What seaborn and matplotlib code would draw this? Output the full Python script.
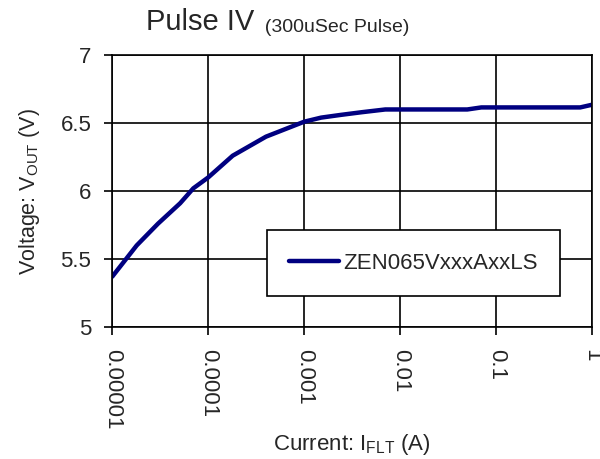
import matplotlib
matplotlib.use("Agg")
import matplotlib.pyplot as plt
import seaborn as sns
import pandas as pd

# values
current = [1e-5, 1.8e-5, 3e-5, 5.1e-5, 7e-5, 1e-4, 1.8e-4, 4e-4, 1e-3,
           1.5e-3, 2.4e-3, 4e-3, 7e-3, 0.05, 0.07, 0.75, 1.0]
voltage = [5.37, 5.60, 5.76, 5.91, 6.02, 6.10, 6.26, 6.40, 6.51,
           6.54, 6.56, 6.58, 6.60, 6.60, 6.615, 6.615, 6.635]
series_name = "ZEN065VxxxAxxLS"
xtick_vals = [1e-5, 1e-4, 1e-3, 1e-2, 1e-1, 1]
xtick_labels = ["0.00001", "0.0001", "0.001", "0.01", "0.1", "1"]
ytick_vals = [5, 5.5, 6, 6.5, 7]
ytick_labels = ["5", "5.5", "6", "6.5", "7"]

df = pd.DataFrame({"current": current, "voltage": voltage})

sns.set_style("white")
plt.rcParams["font.family"] = ["Liberation Sans", "DejaVu Sans"]
plt.rcParams["mathtext.fontset"] = "custom"
plt.rcParams["mathtext.rm"] = "Liberation Sans"
plt.rcParams["mathtext.it"] = "Liberation Sans"

fig = plt.figure(figsize=(6, 4.59), dpi=100)
ax = fig.add_axes([0.187, 0.2876, 0.80, 0.5924])

sns.lineplot(data=df, x="current", y="voltage", ax=ax, color="#000080",
             linewidth=3.2, label=series_name, sort=True)

ax.set_xscale("log")
ax.set_xlim(1e-5, 1)
ax.set_ylim(5, 7)
ax.set_xticks(xtick_vals)
ax.set_xticklabels(xtick_labels, rotation=-90, fontsize=16)
ax.minorticks_off()
ax.set_yticks(ytick_vals)
ax.set_yticklabels(ytick_labels, fontsize=16)
ax.tick_params(axis="both", direction="out", length=6, width=1.2,
               color="black", bottom=True, left=True)
ax.tick_params(axis="x", pad=10)
ax.tick_params(axis="y", pad=9)

ax.grid(True, color="black", linewidth=1.2)
for s in ax.spines.values():
    s.set_color("black")
    s.set_linewidth(1.2)

ax.set_xlabel(r"Current: I$_{\mathrm{FLT}}$ (A)", fontsize=16, labelpad=2)
ax.set_ylabel(r"Voltage: V$_{\mathrm{OUT}}$ (V)", fontsize=15.5, labelpad=13)

leg = ax.legend(loc="center", bbox_to_anchor=(0.628, 0.235), fontsize=16,
                frameon=True, fancybox=False, borderpad=1.0,
                handlelength=2.25, handletextpad=0.2, borderaxespad=0)
leg.get_frame().set_edgecolor("black")
leg.get_frame().set_linewidth(1.2)
leg.get_frame().set_alpha(1)
for line in leg.get_lines():
    line.set_solid_capstyle("round")

t1 = fig.text(146 / 600, 1 - 30 / 459, "Pulse IV", fontsize=21,
              ha="left", va="baseline")
fig.canvas.draw()
ax.annotate("  (300uSec Pulse)", xy=(1, 0), xycoords=t1, fontsize=14,
            ha="left", va="bottom")

fig.savefig("out.png", dpi=100)
